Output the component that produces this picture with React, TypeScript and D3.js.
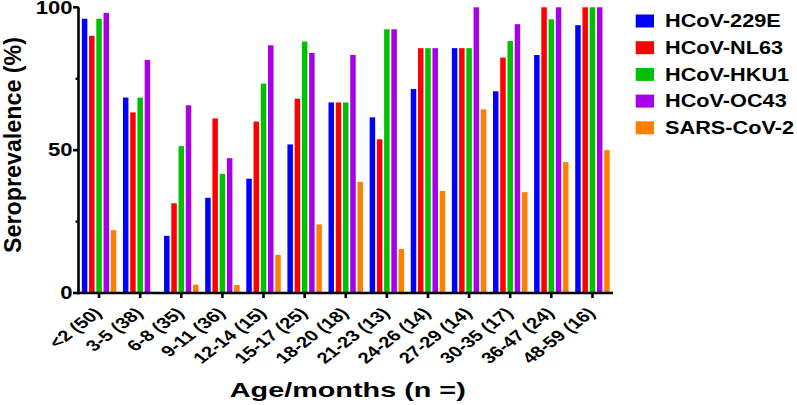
import React from "react";
import * as d3 from "d3";

const categories = ["<2 (50)", "3-5 (38)", "6-8 (35)", "9-11 (36)", "12-14 (15)", "15-17 (25)", "18-20 (18)", "21-23 (13)", "24-26 (14)", "27-29 (14)", "30-35 (17)", "36-47 (24)", "48-59 (16)"];
const seriesNames = ["HCoV-229E", "HCoV-NL63", "HCoV-HKU1", "HCoV-OC43", "SARS-CoV-2"];
const hcov229E = [96, 68.4, 20, 33.3, 40, 52, 66.7, 61.5, 71.4, 85.7, 70.6, 83.3, 93.75];
const hcovNL63 = [90, 63.2, 31.4, 61.1, 60, 68, 66.7, 53.8, 85.7, 85.7, 82.4, 100, 100];
const hcovHKU1 = [96, 68.4, 51.4, 41.7, 73.3, 88, 66.7, 92.3, 85.7, 85.7, 88.2, 95.8, 100];
const hcovOC43 = [98, 81.6, 65.7, 47.2, 86.7, 84, 83.3, 92.3, 85.7, 100, 94.1, 100, 100];
const sarsCoV2 = [22, 0, 2.9, 2.8, 13.3, 24, 38.9, 15.4, 35.7, 64.3, 35.3, 45.8, 50];
const colors = ["#0000ff", "#ff0000", "#00c000", "#a600e6", "#ff8000"];
const yTicksMajor = [0, 50, 100];
const yTicksMinor = [25, 75];

const seriesValues = [hcov229E, hcovNL63, hcovHKU1, hcovOC43, sarsCoV2];
const FONT = "'Liberation Sans', Arial, Helvetica, sans-serif";
const SX = 1.26;

export default function App() {
  const W = 797, H = 405;
  const x0 = 78.5, x1 = 613, yTop = 7.3, yBot = 293;
  const x = d3.scaleBand<string>().domain(categories).range([x0, x1]).paddingInner(0).paddingOuter(0);
  const xi = d3.scaleBand<string>().domain(seriesNames).range([0, x.bandwidth()]).paddingInner(0.24).paddingOuter(0.46);
  const y = d3.scaleLinear().domain([0, 100]).range([yBot, yTop]);

  return (
    <svg width={W} height={H} style={{ position: "absolute", left: 0, top: 0, background: "#fff" }} fontFamily={FONT} fontWeight="bold">
      {/* bars */}
      {categories.map((c, i) => (
        <g key={c} transform={`translate(${x(c)},0)`}>
          {seriesNames.map((s, j) => {
            const v = seriesValues[j][i];
            return <rect key={s} x={xi(s)} y={y(v)} width={xi.bandwidth()} height={yBot - y(v)} fill={colors[j]} />;
          })}
        </g>
      ))}
      {/* y axis */}
      <line x1={x0} x2={x0} y1={yTop} y2={yBot + 1.3} stroke="#000" strokeWidth={2.6} />
      {yTicksMajor.map((t) => (
        <g key={t}>
          <line x1={x0 - 5.5} x2={x0} y1={y(t)} y2={y(t)} stroke="#000" strokeWidth={2.6} />
          <text transform={`translate(72.5,${y(t) + 6.3}) scale(${SX},1)`} textAnchor="end" fontSize={17.5} fill="#000">{t}</text>
        </g>
      ))}
      {yTicksMinor.map((t) => (
        <line key={t} x1={x0 - 3} x2={x0} y1={y(t)} y2={y(t)} stroke="#000" strokeWidth={2.4} />
      ))}
      {/* x axis */}
      <line x1={x0 - 1.3} x2={x1} y1={yBot} y2={yBot} stroke="#000" strokeWidth={2.6} />
      {categories.map((c) => {
        const cx = (x(c) as number) + x.bandwidth() / 2;
        return (
          <g key={c}>
            <line x1={cx} x2={cx} y1={yBot} y2={yBot + 5} stroke="#000" strokeWidth={2.6} />
            <text transform={`translate(${cx + 3.8},314) scale(1.3,1) rotate(-45)`} textAnchor="end" fontSize={15.5} fill="#000">{c}</text>
          </g>
        );
      })}
      {/* axis titles */}
      <text x={(x0 + x1) / 2 + 2} y={397.3} textAnchor="middle" fontSize={21} textLength={236} lengthAdjust="spacingAndGlyphs" fill="#000">Age/months (n =)</text>
      <text transform={`translate(20.7,145) rotate(-90)`} textAnchor="middle" fontSize={23} textLength={216} lengthAdjust="spacingAndGlyphs" fill="#000">Seroprevalence (%)</text>
      {/* legend */}
      {seriesNames.map((s, j) => {
        const cy = 21 + j * 26.7;
        return (
          <g key={s}>
            <rect x={635.7} y={cy - 6.5} width={18.3} height={13} fill={colors[j]} />
            <text transform={`translate(665,${cy + 6.3}) scale(1.24,1)`} fontSize={17.5} fill="#000">{s}</text>
          </g>
        );
      })}
    </svg>
  );
}
